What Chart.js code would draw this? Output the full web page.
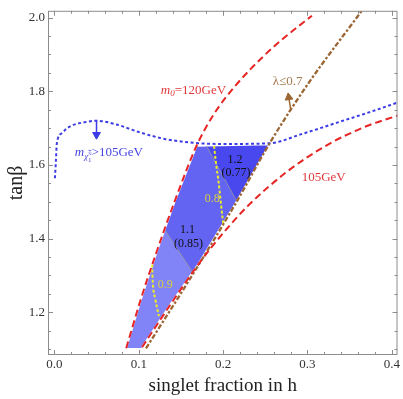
<!DOCTYPE html>
<html>
<head>
<meta charset="utf-8">
<script src="https://cdn.jsdelivr.net/npm/chart.js"></script>
<style>
  html, body { margin: 0; padding: 0; background: #fff; }
  canvas { display: block; }
</style>
</head>
<body>
<canvas id="chart" width="403" height="399"></canvas>
<script>
// Axis ticks
const xMajorTicks = [0, 0.1, 0.2, 0.3, 0.4];
const xTickLabels = ['0.0', '0.1', '0.2', '0.3', '0.4'];
const xMinorStep = 0.02;
const yMajorTicks = [1.2, 1.4, 1.6, 1.8, 2.0];
const yTickLabels = ['1.2', '1.4', '1.6', '1.8', '2.0'];
const yMinorStep = 0.05;

// m0 = 120 GeV (left red dashed)
const m0Curve = [
  { x: 0.0851, y: 1.1023 }, { x: 0.1023, y: 1.2344 }, { x: 0.1215, y: 1.3664 },
  { x: 0.1421, y: 1.4984 }, { x: 0.1684, y: 1.6515 }, { x: 0.1885, y: 1.736 },
  { x: 0.2146, y: 1.8152 }, { x: 0.2475, y: 1.8944 }, { x: 0.2734, y: 1.9472 },
  { x: 0.3053, y: 2.0053 }
];
// 105 GeV (right red dashed)
const m105Curve = [
  { x: 0.1039, y: 1.105 }, { x: 0.1367, y: 1.218 }, { x: 0.1708, y: 1.3307 },
  { x: 0.2001, y: 1.4152 }, { x: 0.2295, y: 1.4891 }, { x: 0.2764, y: 1.5829 },
  { x: 0.3233, y: 1.6541 }, { x: 0.3703, y: 1.7056 }, { x: 0.4079, y: 1.7347 }
];
// lambda <= 0.7 (brown dash-dot)
const lambdaCurve = [
  { x: 0.1086, y: 1.1023 }, { x: 0.159, y: 1.2845 }, { x: 0.2142, y: 1.4931 },
  { x: 0.2553, y: 1.6594 }, { x: 0.2999, y: 1.8178 }, { x: 0.3644, y: 2.0185 }
];
// chargino mass > 105 GeV (blue dotted)
const charginoCurve = [
  { x: 0.0006, y: 1.564 }, { x: 0.0018, y: 1.612 }, { x: 0.0029, y: 1.659 },
  { x: 0.0088, y: 1.686 }, { x: 0.0147, y: 1.699 }, { x: 0.0241, y: 1.710 },
  { x: 0.0335, y: 1.715 }, { x: 0.0499, y: 1.720 }, { x: 0.0734, y: 1.710 },
  { x: 0.1004, y: 1.689 }, { x: 0.132, y: 1.670 }, { x: 0.1708, y: 1.659 },
  { x: 0.206, y: 1.657 }, { x: 0.2553, y: 1.659 }, { x: 0.294, y: 1.6845 },
  { x: 0.3351, y: 1.7149 }, { x: 0.3727, y: 1.7426 }, { x: 0.4079, y: 1.7703 }
];
// fine-tuning contours (yellow dotted)
const contour09 = [
  { x: 0.1158, y: 1.3294 }, { x: 0.1166, y: 1.2819 }, { x: 0.1195, y: 1.237 }, { x: 0.1238, y: 1.1895 }
];
const contour08 = [
  { x: 0.1892, y: 1.6515 }, { x: 0.1919, y: 1.5987 }, { x: 0.1943, y: 1.5591 },
  { x: 0.1975, y: 1.4931 }, { x: 0.2001, y: 1.4403 }
];
// allowed region and its zones
const allowedRegion = [
  { x: 0.0851, y: 1.104 }, { x: 0.1023, y: 1.2344 }, { x: 0.1215, y: 1.3664 },
  { x: 0.1421, y: 1.4984 }, { x: 0.1684, y: 1.652 }, { x: 0.2553, y: 1.656 },
  { x: 0.2142, y: 1.4931 }, { x: 0.1708, y: 1.3307 }, { x: 0.1367, y: 1.218 },
  { x: 0.1039, y: 1.104 }
];
const lightZone = [
  { x: 0.0851, y: 1.104 }, { x: 0.1023, y: 1.2344 }, { x: 0.1215, y: 1.3664 },
  { x: 0.130, y: 1.427 }, { x: 0.164, y: 1.308 }, { x: 0.1367, y: 1.218 }, { x: 0.1039, y: 1.104 }
];
const darkZone = [
  { x: 0.1802, y: 1.652 }, { x: 0.2553, y: 1.656 }, { x: 0.2162, y: 1.501 }
];
const zoneEdgeA = [{ x: 0.130, y: 1.427 }, { x: 0.164, y: 1.308 }];
const zoneEdgeB = [{ x: 0.1802, y: 1.652 }, { x: 0.2162, y: 1.501 }];
// arrows: tail, head
const charginoArrow = [{ x: 0.0499, y: 1.720 }, { x: 0.0499, y: 1.682 }];
const lambdaArrow = [{ x: 0.2803, y: 1.748 }, { x: 0.2778, y: 1.7835 }];

const FONT = '"Liberation Serif", "Times New Roman", serif';
const RED = '#e62626';
const BLUE = '#3c3ce6';
const BROWN = '#9c6634';
const YELLOW = '#ecec2a';

const annotations = [
  { x: 0.1262, y: 1.802, align: 'left', color: '#e03a3a',
    parts: [['m', 'italic 13px'], ['0', 'italic 9px', 3], ['=120GeV', '13px']] },
  { x: 0.3192, y: 1.566, align: 'center', color: '#e03a3a', parts: [['105GeV', '13px']] },
  { x: 0.2764, y: 1.826, align: 'center', color: '#a47a50', parts: [['λ≤0.7', '13px']] },
  { x: 0.0241, y: 1.633, align: 'left', color: '#4646e0',
    parts: [['m', 'italic 13px'], ['χ̃', 'italic 9px', 4], ['±', '7px', -2, false], ['1', '7px', 7], ['>105GeV', '13px']] },
  { x: 0.2142, y: 1.6146, align: 'center', color: '#111', parts: [['1.2', '12px']] },
  { x: 0.2154, y: 1.578, align: 'center', color: '#111', parts: [['(0.77)', '12px']] },
  { x: 0.1579, y: 1.4245, align: 'center', color: '#111', parts: [['1.1', '12px']] },
  { x: 0.159, y: 1.385, align: 'center', color: '#111', parts: [['(0.85)', '12px']] },
  { x: 0.1315, y: 1.274, align: 'center', color: '#d8d040', parts: [['0.9', '12px']] },
  { x: 0.1872, y: 1.509, align: 'center', color: '#d8d040', parts: [['0.8', '12px']] }
];

function buildTicks(from, to, step) {
  const out = [];
  for (let v = from; v <= to + 1e-9; v += step) out.push({ value: +v.toFixed(3) });
  return out;
}
function majorIndex(list, v) {
  return list.findIndex(m => Math.abs(m - v) < 1e-6);
}

const frameTicks = {
  id: 'frameTicks',
  afterDraw(chart) {
    const { ctx, chartArea: a, scales } = chart;
    ctx.save();
    ctx.strokeStyle = '#8c8c8c';
    ctx.lineWidth = 1;
    ctx.strokeRect(a.left + 0.5, a.top + 0.5, a.right - a.left - 1, a.bottom - a.top - 1);
    ctx.beginPath();
    scales.x.ticks.forEach(t => {
      const px = Math.round(scales.x.getPixelForValue(t.value)) + 0.5;
      const len = majorIndex(xMajorTicks, t.value) >= 0 ? 5 : 3;
      ctx.moveTo(px, a.bottom); ctx.lineTo(px, a.bottom - len);
      ctx.moveTo(px, a.top); ctx.lineTo(px, a.top + len);
    });
    scales.y.ticks.forEach(t => {
      const py = Math.round(scales.y.getPixelForValue(t.value)) + 0.5;
      const len = majorIndex(yMajorTicks, t.value) >= 0 ? 5 : 3;
      ctx.moveTo(a.left, py); ctx.lineTo(a.left + len, py);
      ctx.moveTo(a.right, py); ctx.lineTo(a.right - len, py);
    });
    ctx.stroke();
    ctx.restore();
  }
};

const textLabels = {
  id: 'textLabels',
  afterDatasetsDraw(chart) {
    const { ctx, scales: { x, y } } = chart;
    ctx.save();
    ctx.textBaseline = 'middle';
    ctx.textAlign = 'left';
    annotations.forEach(lab => {
      let width = 0;
      lab.parts.forEach(p => {
        ctx.font = p[1] + ' ' + FONT;
        if (p[3] !== false) width += ctx.measureText(p[0]).width;
      });
      let px = x.getPixelForValue(lab.x);
      const py = y.getPixelForValue(lab.y);
      if (lab.align === 'center') px -= width / 2;
      ctx.fillStyle = lab.color;
      lab.parts.forEach(p => {
        ctx.font = p[1] + ' ' + FONT;
        ctx.fillText(p[0], px, py + (p[2] || 0));
        if (p[3] !== false) px += ctx.measureText(p[0]).width;
      });
    });
    ctx.restore();
  }
};

function curve(data, color, dash, order, width = 2) {
  return {
    data, showLine: true, fill: false, borderColor: color, borderWidth: width,
    borderDash: dash, cubicInterpolationMode: 'monotone', pointRadius: 0, order
  };
}
function zone(data, color, order) {
  return {
    data, showLine: true, fill: 'shape', backgroundColor: color,
    borderWidth: 0, borderColor: 'rgba(0,0,0,0)', tension: 0, pointRadius: 0, order
  };
}
function arrow(data, color, rotation) {
  return {
    data, showLine: true, fill: false, borderColor: color, borderWidth: 1.5,
    pointRadius: [0, 4.5], pointStyle: 'triangle', pointRotation: [0, rotation],
    pointBackgroundColor: color, pointBorderColor: color, pointBorderWidth: 1, order: 0
  };
}

new Chart(document.getElementById('chart'), {
  type: 'scatter',
  data: {
    datasets: [
      arrow(charginoArrow, BLUE, 180),
      arrow(lambdaArrow, BROWN, -8),
      curve(m0Curve, RED, [7, 4], 1),
      curve(m105Curve, RED, [7, 4], 1),
      curve(lambdaCurve, BROWN, [5, 2, 2.5, 2], 1, 2.3),
      curve(charginoCurve, BLUE, [3, 2.5], 1),
      curve(contour09, YELLOW, [3, 2], 2),
      curve(contour08, YELLOW, [3, 2], 2),
      { data: zoneEdgeA, showLine: true, borderColor: 'rgba(150,150,165,0.85)', borderWidth: 1, pointRadius: 0, order: 3 },
      { data: zoneEdgeB, showLine: true, borderColor: 'rgba(150,150,165,0.85)', borderWidth: 1, pointRadius: 0, order: 3 },
      { data: allowedRegion, showLine: true, fill: false, borderColor: '#ffffff', borderWidth: 2, tension: 0, pointRadius: 0, order: 4 },
      zone(lightZone, '#8084f6', 5),
      zone(darkZone, '#4848ee', 5),
      zone(allowedRegion, '#6464f2', 6)
    ]
  },
  options: {
    responsive: false,
    animation: false,
    devicePixelRatio: 1,
    layout: { padding: { top: 1, right: 2, left: 0, bottom: 0 } },
    plugins: { legend: { display: false }, tooltip: { enabled: false } },
    scales: {
      x: {
        type: 'linear', min: -0.0076, max: 0.4067,
        afterBuildTicks: s => { s.ticks = buildTicks(0, 0.4, xMinorStep); },
        afterFit: s => { s.height = 44; },
        grid: { display: false, drawTicks: false },
        border: { display: false },
        ticks: {
          padding: 2, autoSkip: false, maxRotation: 0, color: '#333',
          font: { family: FONT, size: 13 },
          callback: v => { const i = majorIndex(xMajorTicks, v); return i >= 0 ? xTickLabels[i] : ''; }
        },
        title: {
          display: true, text: 'singlet fraction in h', color: '#222',
          font: { family: FONT, size: 19 }, padding: { top: 0, bottom: 2 }
        }
      },
      y: {
        type: 'linear', min: 1.084, max: 2.0185,
        afterBuildTicks: s => { s.ticks = buildTicks(1.1, 2.0, yMinorStep); },
        afterFit: s => { s.width = 48; },
        grid: { display: false, drawTicks: false },
        border: { display: false },
        ticks: {
          padding: 3, autoSkip: false, color: '#333',
          font: { family: FONT, size: 13 },
          callback: v => { const i = majorIndex(yMajorTicks, v); return i >= 0 ? yTickLabels[i] : ''; }
        },
        title: {
          display: true, text: 'tanβ', color: '#222',
          font: { family: FONT, size: 20 }, padding: { top: 5, bottom: 0 }
        }
      }
    }
  },
  plugins: [frameTicks, textLabels]
});
</script>
</body>
</html>
